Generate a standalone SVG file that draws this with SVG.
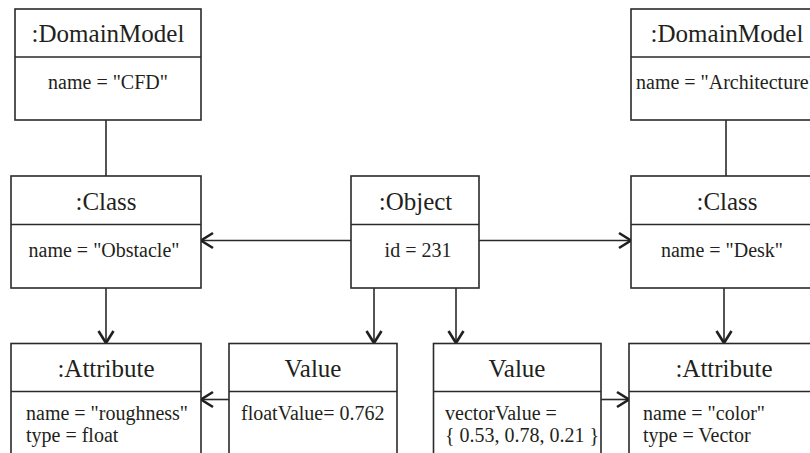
<svg xmlns="http://www.w3.org/2000/svg" width="810" height="453" viewBox="0 0 810 453" font-family="'Liberation Serif', 'Times New Roman', 'DejaVu Serif', serif">
<style>
.box{fill:#fff;stroke:#2a2a2a;stroke-width:1.6}
.div{stroke:#2a2a2a;stroke-width:1.6}
text{font-family:'Liberation Serif','Times New Roman','DejaVu Serif',serif;fill:#231f20}
.t{font-size:25px;text-anchor:middle}
.b{font-size:20px}
.c{text-anchor:middle}
.ln{stroke:#2a2a2a;stroke-width:1.6;fill:none}
</style>
<defs>
<marker id="arr" markerUnits="userSpaceOnUse" markerWidth="20" markerHeight="20" viewBox="-16 -10 20 20" refX="-1" refY="0" orient="auto">
<path d="M-13,-7.5 L-1,0 L-13,7.5" fill="none" stroke="#231f20" stroke-width="2.6"/>
</marker>
</defs>
<g id="connectors">
<line class="ln" x1="106" y1="120" x2="106" y2="176"/>
<line class="ln" x1="726" y1="120" x2="726" y2="176"/>
<line class="ln" x1="106" y1="288" x2="106" y2="343" marker-end="url(#arr)"/>
<line class="ln" x1="374" y1="288" x2="374" y2="343" marker-end="url(#arr)"/>
<line class="ln" x1="456" y1="288" x2="456" y2="343" marker-end="url(#arr)"/>
<line class="ln" x1="724" y1="288" x2="724" y2="343" marker-end="url(#arr)"/>
<line class="ln" x1="351" y1="240.5" x2="201" y2="240.5" marker-end="url(#arr)"/>
<line class="ln" x1="479" y1="240.5" x2="631" y2="240.5" marker-end="url(#arr)"/>
<line class="ln" x1="229" y1="399.5" x2="201" y2="399.5" marker-end="url(#arr)"/>
<line class="ln" x1="601" y1="399.5" x2="629" y2="399.5" marker-end="url(#arr)"/>
</g>
<g id="domainModelCFD">
<rect class="box" x="15" y="9" width="186" height="111"/>
<line class="div" x1="15" y1="57" x2="201" y2="57"/>
<text class="t" x="108" y="42">:DomainModel</text>
<text class="b c" x="108" y="88.5">name = "CFD"</text>
</g>
<g id="domainModelArch">
<rect class="box" x="631" y="9" width="190" height="111"/>
<line class="div" x1="631" y1="57" x2="821" y2="57"/>
<text class="t" x="727" y="42">:DomainModel</text>
<text class="b" x="636" y="88.5">name = "Architecture"</text>
</g>
<g id="classObstacle">
<rect class="box" x="11" y="176" width="190" height="112"/>
<line class="div" x1="11" y1="224.5" x2="201" y2="224.5"/>
<text class="t" x="106" y="209.5">:Class</text>
<text class="b c" x="104" y="257">name = "Obstacle"</text>
</g>
<g id="object">
<rect class="box" x="351" y="176" width="128" height="112"/>
<line class="div" x1="351" y1="224.5" x2="479" y2="224.5"/>
<text class="t" x="415.5" y="209.5">:Object</text>
<text class="b c" x="418" y="257">id = 231</text>
</g>
<g id="classDesk">
<rect class="box" x="631" y="176" width="190" height="112"/>
<line class="div" x1="631" y1="224.5" x2="821" y2="224.5"/>
<text class="t" x="727" y="209.5">:Class</text>
<text class="b c" x="722" y="257">name = "Desk"</text>
</g>
<g id="attributeRoughness">
<rect class="box" x="11" y="343.5" width="190" height="130"/>
<line class="div" x1="11" y1="391.5" x2="201" y2="391.5"/>
<text class="t" x="106" y="376.5">:Attribute</text>
<text class="b" x="26" y="420">name = "roughness"</text>
<text class="b" x="26" y="442">type = float</text>
</g>
<g id="valueFloat">
<rect class="box" x="229" y="343.5" width="168" height="130"/>
<line class="div" x1="229" y1="391.5" x2="397" y2="391.5"/>
<text class="t" x="313" y="376.5">Value</text>
<text class="b" x="241" y="420">floatValue= 0.762</text>
</g>
<g id="valueVector">
<rect class="box" x="433.5" y="343.5" width="167.5" height="130"/>
<line class="div" x1="433.5" y1="391.5" x2="601" y2="391.5"/>
<text class="t" x="517" y="376.5">Value</text>
<text class="b" x="445" y="420">vectorValue =</text>
<text class="b" x="445" y="442">{ 0.53, 0.78, 0.21 }</text>
</g>
<g id="attributeColor">
<rect class="box" x="629" y="343.5" width="190" height="130"/>
<line class="div" x1="629" y1="391.5" x2="819" y2="391.5"/>
<text class="t" x="724" y="376.5">:Attribute</text>
<text class="b" x="643" y="420">name = "color"</text>
<text class="b" x="643" y="442">type = Vector</text>
</g>
</svg>
